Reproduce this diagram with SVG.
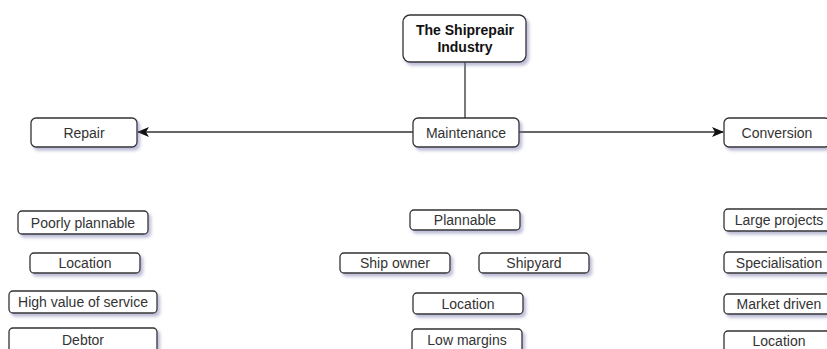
<svg xmlns="http://www.w3.org/2000/svg" width="827" height="349" viewBox="0 0 827 349">
<style>
.box{fill:#fff;stroke:#333;stroke-width:1.3;filter:url(#sh)}
.t{font-family:"Liberation Sans",Arial,sans-serif;font-size:14px;fill:#333;text-anchor:middle;dominant-baseline:central}
.b{font-weight:bold;fill:#111}
.c{fill:none;stroke:#333;stroke-width:1.3}
</style>
<defs>
<filter id="sh" x="-20%" y="-30%" width="140%" height="170%">
<feDropShadow dx="2.5" dy="3" stdDeviation="1.5" flood-color="#7070a8" flood-opacity="0.45"/>
</filter>
<marker id="ar" viewBox="0 0 12 10" refX="11" refY="5" markerWidth="12" markerHeight="10" markerUnits="userSpaceOnUse" orient="auto">
<path d="M0,0 L12,5 L0,10 L3,5 Z" fill="#111"/>
</marker>
</defs>
<g id="connectors">
<path class="c" d="M465,62 V118"/>
<path class="c" d="M413,132 H138" marker-end="url(#ar)"/>
<path class="c" d="M519,132 H723" marker-end="url(#ar)"/>
</g>
<g id="industry"><rect class="box" x="403" y="15" width="123" height="47" rx="7"/><text class="t b" x="465" y="30">The Shiprepair</text><text class="t b" x="465" y="47">Industry</text></g>
<g id="maintenance"><rect class="box" x="413" y="118" width="106" height="29" rx="5"/><text class="t" x="466" y="132.5">Maintenance</text></g>
<g id="repair"><rect class="box" x="31" y="118" width="106" height="29" rx="5"/><text class="t" x="84" y="132.5">Repair</text></g>
<g id="conversion"><rect class="box" x="724" y="118" width="106" height="29" rx="5"/><text class="t" x="777" y="132.5">Conversion</text></g>
<g id="poorly-plannable"><rect class="box" x="18" y="211" width="130" height="23" rx="4"/><text class="t" x="83" y="222.5">Poorly plannable</text></g>
<g id="location-repair"><rect class="box" x="30" y="253" width="110" height="20" rx="4"/><text class="t" x="85" y="263">Location</text></g>
<g id="high-value"><rect class="box" x="9" y="291" width="148" height="22" rx="4"/><text class="t" x="83" y="302">High value of service</text></g>
<g id="debtor"><rect class="box" x="9" y="328" width="148" height="26" rx="4"/><text class="t" x="83" y="339.5">Debtor</text></g>
<g id="plannable"><rect class="box" x="410" y="210" width="110" height="20" rx="4"/><text class="t" x="465" y="220">Plannable</text></g>
<g id="ship-owner"><rect class="box" x="340" y="253" width="110" height="20" rx="4"/><text class="t" x="395" y="263">Ship owner</text></g>
<g id="shipyard"><rect class="box" x="479" y="253" width="110" height="20" rx="4"/><text class="t" x="534" y="263">Shipyard</text></g>
<g id="location-maint"><rect class="box" x="413" y="293" width="110" height="21" rx="4"/><text class="t" x="468" y="303.5">Location</text></g>
<g id="low-margins"><rect class="box" x="412" y="329" width="110" height="24" rx="4"/><text class="t" x="467" y="340">Low margins</text></g>
<g id="large-projects"><rect class="box" x="724" y="209" width="110" height="22" rx="4"/><text class="t" x="779" y="220">Large projects</text></g>
<g id="specialisation"><rect class="box" x="724" y="252" width="110" height="21" rx="4"/><text class="t" x="779" y="262.5">Specialisation</text></g>
<g id="market-driven"><rect class="box" x="724" y="294" width="110" height="20" rx="4"/><text class="t" x="779" y="304">Market driven</text></g>
<g id="location-conv"><rect class="box" x="724" y="331" width="110" height="24" rx="4"/><text class="t" x="779" y="341">Location</text></g>
</svg>
